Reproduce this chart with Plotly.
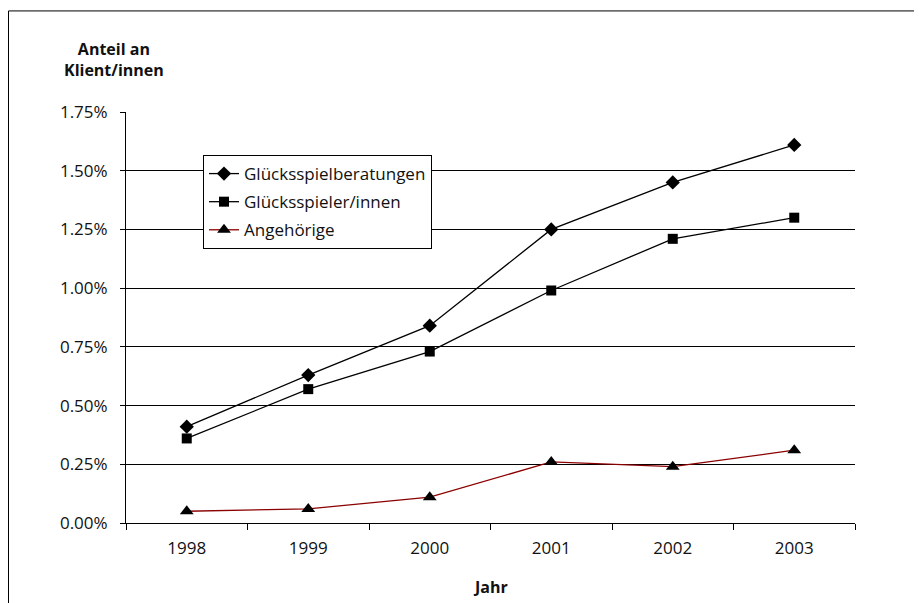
import plotly.graph_objects as go

years = ["1998", "1999", "2000", "2001", "2002", "2003"]
beratungen = [0.41, 0.63, 0.84, 1.25, 1.45, 1.61]
spieler = [0.36, 0.57, 0.73, 0.99, 1.21, 1.30]
angehoerige = [0.05, 0.06, 0.11, 0.26, 0.24, 0.31]
y_ticks = [0, 0.25, 0.5, 0.75, 1.0, 1.25, 1.5, 1.75]
y_labels = ["0.00%", "0.25%", "0.50%", "0.75%", "1.00%", "1.25%", "1.50%", "1.75%"]

FONT = "Open Sans"
# page body has an 8px margin, so figure coordinates are shifted by 8px
L, R, T, B = 118, 847, 104, 514.7
W, H = 914, 595
PW, PH = R - L, B - T

def px(x):
    return (x - L) / PW

def py(y):
    return (B - y) / PH

fig = go.Figure()
fig.add_trace(go.Scatter(
    x=years, y=beratungen, name="Glücksspielberatungen", mode="lines+markers",
    legendgroup="a",
    line=dict(color="black", width=1.3),
    marker=dict(symbol="diamond", size=11, color="black")))
fig.add_trace(go.Scatter(
    x=years, y=spieler, name="Glücksspieler/innen", mode="lines+markers",
    legendgroup="b",
    line=dict(color="black", width=1.3),
    marker=dict(symbol="square", size=10, color="black")))
fig.add_trace(go.Scatter(
    x=years, y=angehoerige, name="Angehörige", mode="lines+markers",
    legendgroup="c",
    line=dict(color="#8b0000", width=1.3),
    marker=dict(symbol="triangle-up", size=12, color="black")))

fig.update_layout(
    width=W, height=H,
    margin=dict(l=L, r=W - R, t=T, b=H - B),
    paper_bgcolor="white", plot_bgcolor="white",
    font=dict(family=FONT, size=17, color="#111"),
    showlegend=True,
    legend=dict(x=px(195), y=py(147), xanchor="left", yanchor="top",
                bgcolor="white", bordercolor="black", borderwidth=1,
                tracegroupgap=3, itemwidth=30,
                font=dict(family=FONT, size=17, color="#111")),
    xaxis=dict(type="category", range=[-0.5, 5.5], tickson="boundaries",
               ticks="outside", ticklen=6, tickcolor="black",
               showline=True, linecolor="black", linewidth=1,
               showgrid=False, zeroline=False, ticklabelstandoff=10,
               tickfont=dict(family=FONT, size=17)),
    yaxis=dict(range=[0, 1.75], tickvals=y_ticks, ticktext=y_labels,
               ticks="outside", ticklen=5, tickcolor="black",
               showline=True, linecolor="black", linewidth=1,
               showgrid=True, gridcolor="black", gridwidth=1,
               zeroline=False, ticklabelstandoff=9,
               tickfont=dict(family=FONT, size=17)),
    annotations=[
        dict(text="<b>Anteil an<br>Klient/innen</b>", xref="paper", yref="paper",
             x=px(106), y=py(52), showarrow=False,
             xanchor="center", yanchor="middle", align="center",
             font=dict(family=FONT, size=16, color="#111")),
        dict(text="<b>Jahr</b>", xref="paper", yref="paper",
             x=px(482), y=py(579), showarrow=False,
             xanchor="center", yanchor="middle",
             font=dict(family=FONT, size=16, color="#111")),
    ],
    shapes=[
        dict(type="rect", xref="paper", yref="paper",
             x0=px(0.5), x1=2.0, y0=-1.0, y1=py(3),
             line=dict(color="black", width=1), fillcolor="rgba(0,0,0,0)",
             layer="below"),
    ],
)

fig.write_html("out.html")
